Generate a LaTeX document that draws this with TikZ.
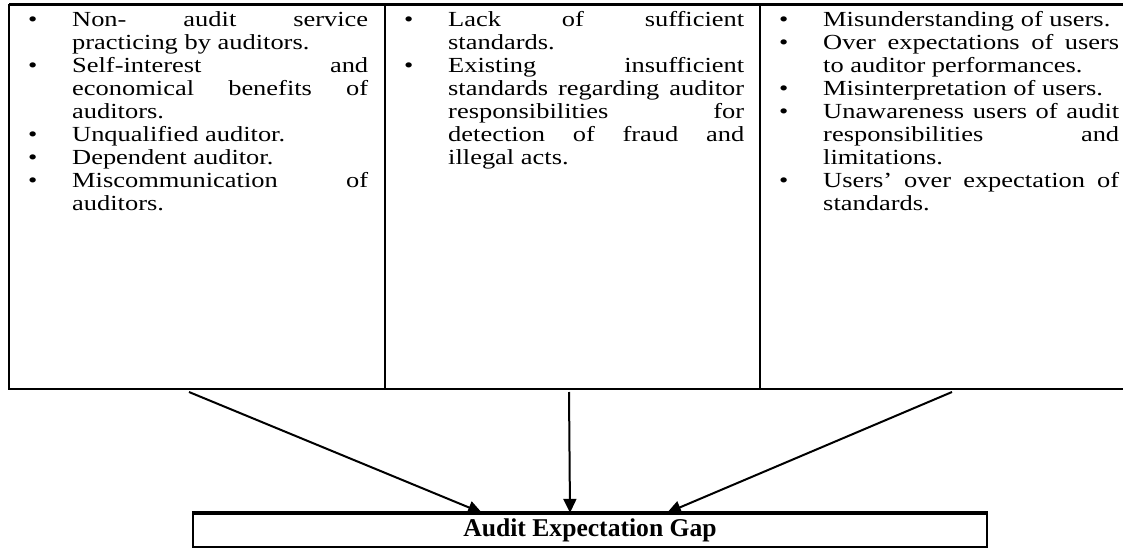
\documentclass[tikz,border=0pt]{standalone}
\usepackage{fontspec}
\setmainfont{Liberation Serif}
\newfontfamily\bodyfont{Liberation Serif}[FakeStretch=1.23]
\usetikzlibrary{arrows.meta,positioning}
\hbadness=10000

\newcommand{\bpoint}{\par\noindent\hangindent=44pt\hangafter=1%
  \makebox[44pt][l]{\textbullet}\ignorespaces}

\tikzset{
  cell/.style={draw, line width=2pt, anchor=north west, minimum height=384pt, inner sep=0pt, outer sep=0pt},
  points/.style={anchor=north west, text width=340pt, inner sep=0pt, align=justify,
                 font=\bodyfont\fontsize{21.5}{23}\selectfont},
  gapbox/.style={draw, line width=2.3pt, minimum width=794pt, minimum height=33pt, inner sep=0pt,
                 font=\bfseries\fontsize{25.6}{28}\selectfont},
  cause/.style={draw, -{Triangle[length=14pt,width=13pt]}, line width=2pt}
}

\begin{document}
\begin{tikzpicture}
  \useasboundingbox (0,0) rectangle (1123pt,-548pt);

  % the three cells of the table
  \node[cell, minimum width=376pt] (c1) at (9pt,-5pt)   {};
  \node[cell, minimum width=375pt] (c2) at (c1.north east) {};
  \node[cell, minimum width=365pt] (c3) at (c2.north east) {};
  \draw[line width=3pt] (c1.north west) -- (c3.north east);

  \node[points] (p1) at ([xshift=19pt,yshift=2pt]c1.north west) {%
    \bpoint Non- audit service\linebreak practicing by auditors.
    \bpoint Self-interest and\linebreak economical benefits of\linebreak auditors.
    \bpoint Unqualified auditor.
    \bpoint Dependent auditor.
    \bpoint Miscommunication of\linebreak auditors.\par};
  \node[points] (p2) at ([xshift=19pt,yshift=2pt]c2.north west) {%
    \bpoint Lack of sufficient\linebreak standards.
    \bpoint Existing insufficient\linebreak standards regarding auditor\linebreak
            responsibilities for\linebreak detection of fraud and\linebreak illegal acts.\par};
  \node[points] (p3) at ([xshift=19pt,yshift=2pt]c3.north west) {%
    \bpoint Misunderstanding of users.
    \bpoint Over expectations of users\linebreak to auditor performances.
    \bpoint Misinterpretation of users.
    \bpoint Unawareness users of audit\linebreak responsibilities and\linebreak limitations.
    \bpoint Users’ over expectation of\linebreak standards.\par};

  % the gap
  \node[gapbox] (gap) at (590pt,-530.5pt) {Audit Expectation Gap};
  \draw[line width=4pt] (gap.north west) -- (gap.north east);

  \coordinate (s1) at ([xshift=-8pt,yshift=-3pt]c1.south);
  \coordinate (s2) at ([xshift=-3.5pt,yshift=-3pt]c2.south);
  \coordinate (s3) at ([xshift=9.5pt,yshift=-3pt]c3.south);

  \path (s1) edge[cause] ([xshift=-108pt]gap.north)
        (s2) edge[cause] ([xshift=-20pt]gap.north)
        (s3) edge[cause] ([xshift=77pt]gap.north);
\end{tikzpicture}
\end{document}
